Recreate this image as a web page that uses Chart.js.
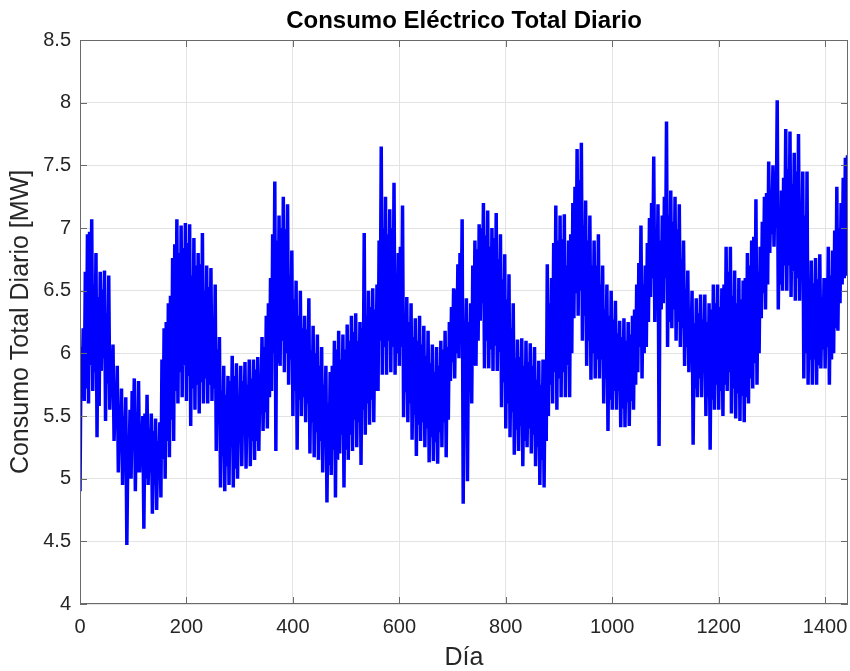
<!DOCTYPE html>
<html>
<head>
<meta charset="utf-8">
<script src="https://cdn.jsdelivr.net/npm/chart.js@4"></script>
<style>
  html, body { margin: 0; padding: 0; background: #fff; }
</style>
</head>
<body>
<canvas id="consumoChart" width="850" height="671"></canvas>
<script>
// Consumo diario (MW), un valor cada 2 días desde el día 0
const PASO_DIAS = 2;
const consumo = [
  4.90, 6.05, 5.65, 6.20, 5.62, 6.65, 5.72, 6.95, 5.60, 6.97, 5.90, 7.07, 5.70, 6.55, 5.85, 6.80, 5.33, 6.45, 5.58, 6.65,
  5.86, 6.51, 5.96, 6.66, 5.46, 6.32, 5.76, 6.62, 5.55, 5.97, 5.70, 6.07, 5.30, 5.65, 5.45, 5.90, 5.05, 5.52, 5.30, 5.72,
  4.95, 5.50, 5.15, 5.65, 4.47, 5.25, 5.07, 5.55, 5.00, 5.70, 5.30, 5.80, 4.90, 5.53, 5.05, 5.78, 5.05, 5.40, 5.20, 5.50,
  4.60, 5.52, 5.00, 5.67, 4.95, 5.40, 5.05, 5.52, 4.72, 5.38, 4.95, 5.48, 4.75, 5.30, 5.00, 5.45, 4.85, 5.95, 5.15, 6.20,
  5.00, 6.25, 5.30, 6.40, 5.17, 6.46, 5.47, 6.76, 5.30, 6.87, 5.70, 7.07, 5.60, 6.80, 5.85, 7.02, 5.65, 6.84, 5.90, 7.04,
  5.62, 6.88, 5.82, 7.03, 5.42, 6.62, 5.72, 6.92, 5.55, 6.70, 5.75, 6.80, 5.52, 6.71, 5.77, 6.96, 5.60, 6.50, 5.80, 6.70,
  5.60, 6.53, 5.75, 6.68, 5.62, 6.25, 5.72, 6.55, 5.22, 6.03, 5.52, 6.13, 4.93, 5.70, 5.18, 5.90, 4.90, 5.67, 5.10, 5.82,
  4.95, 5.78, 5.25, 5.98, 4.93, 5.82, 5.08, 5.92, 5.00, 5.65, 5.30, 5.90, 5.10, 5.78, 5.35, 5.93, 5.08, 5.75, 5.33, 5.95,
  5.10, 5.80, 5.30, 5.95, 5.15, 5.87, 5.30, 5.97, 5.22, 5.83, 5.52, 6.13, 5.38, 6.05, 5.53, 6.30, 5.40, 6.40, 5.65, 6.60,
  5.70, 6.95, 6.00, 7.37, 5.22, 6.90, 5.92, 7.10, 5.90, 7.00, 6.10, 7.25, 5.85, 6.99, 6.00, 7.19, 5.75, 6.62, 5.95, 6.82,
  5.50, 6.43, 5.70, 6.58, 5.23, 6.30, 5.63, 6.50, 5.50, 6.20, 5.65, 6.30, 5.45, 6.19, 5.60, 6.44, 5.20, 6.02, 5.45, 6.22,
  5.17, 6.00, 5.37, 6.15, 5.15, 5.90, 5.30, 6.05, 5.05, 5.75, 5.35, 5.90, 4.81, 5.60, 5.11, 5.85, 5.03, 5.90, 5.23, 6.10,
  4.85, 6.03, 5.15, 6.18, 5.20, 5.95, 5.35, 6.15, 4.93, 6.03, 5.23, 6.23, 5.15, 6.10, 5.35, 6.30, 5.22, 6.17, 5.47, 6.32,
  5.25, 6.10, 5.45, 6.25, 5.11, 6.20, 5.55, 6.96, 5.35, 6.30, 5.60, 6.50, 5.43, 6.37, 5.63, 6.52, 5.45, 6.35, 5.70, 6.55,
  5.70, 6.90, 6.10, 7.65, 5.83, 7.00, 6.05, 7.25, 5.83, 6.95, 6.10, 7.15, 5.85, 7.00, 6.05, 7.36, 5.83, 6.60, 6.00, 6.80,
  5.90, 6.85, 6.05, 7.18, 5.49, 6.30, 5.69, 6.45, 5.45, 6.25, 5.60, 6.40, 5.31, 6.13, 5.51, 6.28, 5.18, 6.10, 5.43, 6.30,
  5.30, 6.07, 5.45, 6.22, 5.25, 5.98, 5.40, 6.18, 5.13, 5.92, 5.33, 6.07, 5.14, 5.85, 5.29, 6.05, 5.12, 5.90, 5.37, 6.10,
  5.25, 6.03, 5.45, 6.18, 5.17, 6.05, 5.47, 6.25, 5.78, 6.37, 5.93, 6.52, 5.80, 6.51, 6.00, 6.71, 5.96, 6.80, 6.15, 7.07,
  4.80, 6.20, 5.90, 6.44, 4.98, 6.25, 5.80, 6.40, 5.60, 6.70, 5.90, 6.90, 5.90, 6.83, 6.10, 7.03, 6.26, 7.00, 6.40, 7.20,
  5.88, 6.94, 6.10, 7.14, 5.88, 6.85, 6.03, 7.00, 5.86, 6.92, 6.06, 7.12, 5.86, 6.75, 6.01, 6.95, 5.57, 6.59, 5.77, 6.79,
  5.40, 6.43, 5.60, 6.63, 5.33, 6.20, 5.53, 6.40, 5.19, 5.96, 5.39, 6.11, 5.22, 5.97, 5.42, 6.12, 5.10, 5.90, 5.30, 6.10,
  5.25, 5.93, 5.40, 6.08, 5.20, 5.90, 5.35, 6.05, 5.10, 5.79, 5.25, 5.94, 4.95, 5.75, 5.15, 5.95, 4.93, 5.95, 5.30, 6.71,
  5.50, 6.40, 5.75, 6.60, 5.60, 6.88, 5.85, 7.18, 5.55, 6.90, 5.80, 7.10, 5.65, 6.91, 5.85, 7.11, 5.65, 6.70, 5.90, 6.90,
  5.65, 6.95, 6.00, 7.20, 6.28, 7.33, 6.48, 7.63, 6.30, 7.38, 6.50, 7.68, 6.10, 7.02, 6.30, 7.22, 5.90, 6.90, 6.10, 7.10,
  5.79, 6.70, 6.00, 6.90, 5.80, 6.70, 5.95, 6.95, 5.80, 6.55, 5.95, 6.70, 5.60, 6.35, 5.80, 6.55, 5.38, 6.30, 5.63, 6.50,
  5.55, 6.27, 5.70, 6.42, 5.55, 6.16, 5.70, 6.26, 5.41, 6.13, 5.56, 6.28, 5.41, 6.10, 5.61, 6.25, 5.42, 6.15, 5.62, 6.30,
  5.55, 6.35, 5.75, 6.55, 5.85, 6.72, 6.05, 7.02, 5.80, 6.55, 6.00, 6.70, 6.05, 6.88, 6.25, 7.08, 6.45, 7.20, 6.60, 7.57,
  6.25, 6.99, 6.40, 7.19, 5.26, 6.90, 6.35, 7.10, 6.40, 7.25, 6.60, 7.85, 6.05, 7.10, 6.25, 7.30, 6.20, 7.05, 6.35, 7.25,
  6.10, 6.99, 6.25, 7.19, 6.05, 6.75, 6.20, 6.90, 5.90, 6.51, 6.05, 6.66, 5.85, 6.35, 6.00, 6.50, 5.27, 6.24, 5.72, 6.44,
  5.65, 6.32, 5.80, 6.47, 5.65, 6.27, 5.85, 6.47, 5.50, 6.25, 5.65, 6.40, 5.23, 6.35, 5.63, 6.55, 5.55, 6.40, 5.75, 6.55,
  5.55, 6.37, 5.70, 6.52, 5.50, 6.55, 5.75, 6.85, 5.70, 6.65, 5.85, 6.85, 5.52, 6.46, 5.72, 6.66, 5.48, 6.40, 5.68, 6.60,
  5.46, 6.43, 5.66, 6.58, 5.45, 6.60, 5.65, 6.80, 5.60, 6.70, 5.80, 6.90, 5.72, 6.93, 5.92, 7.23, 5.75, 6.65, 6.00, 6.85,
  6.28, 7.05, 6.48, 7.25, 6.35, 7.28, 6.55, 7.53, 6.80, 7.30, 6.95, 7.50, 6.85, 7.45, 7.00, 8.02, 6.35, 7.10, 6.55, 7.30,
  6.50, 7.40, 6.70, 7.79, 6.50, 7.47, 6.70, 7.77, 6.45, 7.35, 6.65, 7.60, 6.42, 7.45, 6.60, 7.75, 6.42, 7.20, 6.60, 7.45,
  5.80, 7.10, 6.00, 7.45, 5.75, 6.54, 5.95, 6.74, 5.75, 6.56, 5.95, 6.76, 5.75, 6.59, 5.90, 6.79, 5.88, 6.45, 6.03, 6.60,
  5.88, 6.60, 6.05, 6.85, 5.75, 6.62, 5.95, 6.82, 6.00, 6.98, 6.20, 7.33, 6.18, 7.00, 6.40, 7.20, 6.55, 7.40, 6.60, 7.56,
  6.62, 7.58
];

const ticksDia = [0, 200, 400, 600, 800, 1000, 1200, 1400];
const ticksConsumo = [4, 4.5, 5, 5.5, 6, 6.5, 7, 7.5, 8, 8.5];
const DIA_MAX = 1443;

const puntos = consumo.map((v, i) => ({ x: i * PASO_DIAS, y: v }));

const fuente = "'Liberation Sans', Arial, Helvetica, sans-serif";
const grisTexto = '#262626';

// caja de ejes con marcas hacia dentro en los cuatro lados
const cajaEjes = {
  id: 'cajaEjes',
  afterDatasetsDraw(chart) {
    const { ctx, chartArea: a, scales: { x, y } } = chart;
    const largo = 7;
    ctx.save();
    ctx.strokeStyle = '#6a6a6a';
    ctx.lineWidth = 1;
    ctx.beginPath();
    x.ticks.forEach(t => {
      const px = Math.round(x.getPixelForValue(t.value)) + 0.5;
      ctx.moveTo(px, a.bottom); ctx.lineTo(px, a.bottom - largo);
      ctx.moveTo(px, a.top); ctx.lineTo(px, a.top + largo);
    });
    y.ticks.forEach(t => {
      const py = Math.round(y.getPixelForValue(t.value)) + 0.5;
      ctx.moveTo(a.left, py); ctx.lineTo(a.left + largo, py);
      ctx.moveTo(a.right, py); ctx.lineTo(a.right - largo, py);
    });
    ctx.stroke();
    ctx.strokeRect(a.left + 0.5, a.top + 0.5, a.width - 1, a.height - 1);
    ctx.restore();
  }
};

new Chart(document.getElementById('consumoChart'), {
  type: 'line',
  data: {
    datasets: [{
      data: puntos,
      borderColor: '#0000ff',
      borderWidth: 3.5,
      pointRadius: 0,
      tension: 0,
      fill: false
    }]
  },
  options: {
    responsive: false,
    animation: false,
    layout: { padding: { left: 0, right: 2, top: 0, bottom: 0 } },
    plugins: {
      legend: { display: false },
      tooltip: { enabled: false },
      title: {
        display: true,
        text: 'Consumo Eléctrico Total Diario',
        fullSize: false,
        color: '#000',
        font: { family: fuente, size: 24, weight: 'bold' },
        padding: { top: 6.6, bottom: 4.6 }
      }
    },
    scales: {
      x: {
        type: 'linear',
        min: 0,
        max: DIA_MAX,
        afterBuildTicks: s => { s.ticks = ticksDia.map(v => ({ value: v })); },
        afterFit: s => { s.height = 67; s.paddingLeft = 0; s.paddingRight = 0; },
        grid: { color: '#e3e3e3', drawTicks: false },
        border: { display: false },
        ticks: {
          color: grisTexto,
          padding: 11,
          maxRotation: 0,
          font: { family: fuente, size: 20 },
          callback: v => String(v)
        },
        title: {
          display: true,
          text: 'Día',
          color: grisTexto,
          font: { family: fuente, size: 25, lineHeight: 1 },
          padding: { top: 0, bottom: 0.5 }
        }
      },
      y: {
        min: 4,
        max: 8.5,
        afterBuildTicks: s => { s.ticks = ticksConsumo.map(v => ({ value: v })); },
        afterFit: s => { s.width = 80; s.paddingTop = 0; s.paddingBottom = 0; },
        grid: { color: '#e3e3e3', drawTicks: false },
        border: { display: false },
        ticks: {
          color: grisTexto,
          padding: 9,
          font: { family: fuente, size: 20 },
          callback: v => String(v)
        },
        title: {
          display: true,
          text: 'Consumo Total Diario [MW]',
          color: grisTexto,
          font: { family: fuente, size: 25 },
          padding: { top: 6, bottom: 0 }
        }
      }
    }
  },
  plugins: [cajaEjes]
});
</script>
</body>
</html>
